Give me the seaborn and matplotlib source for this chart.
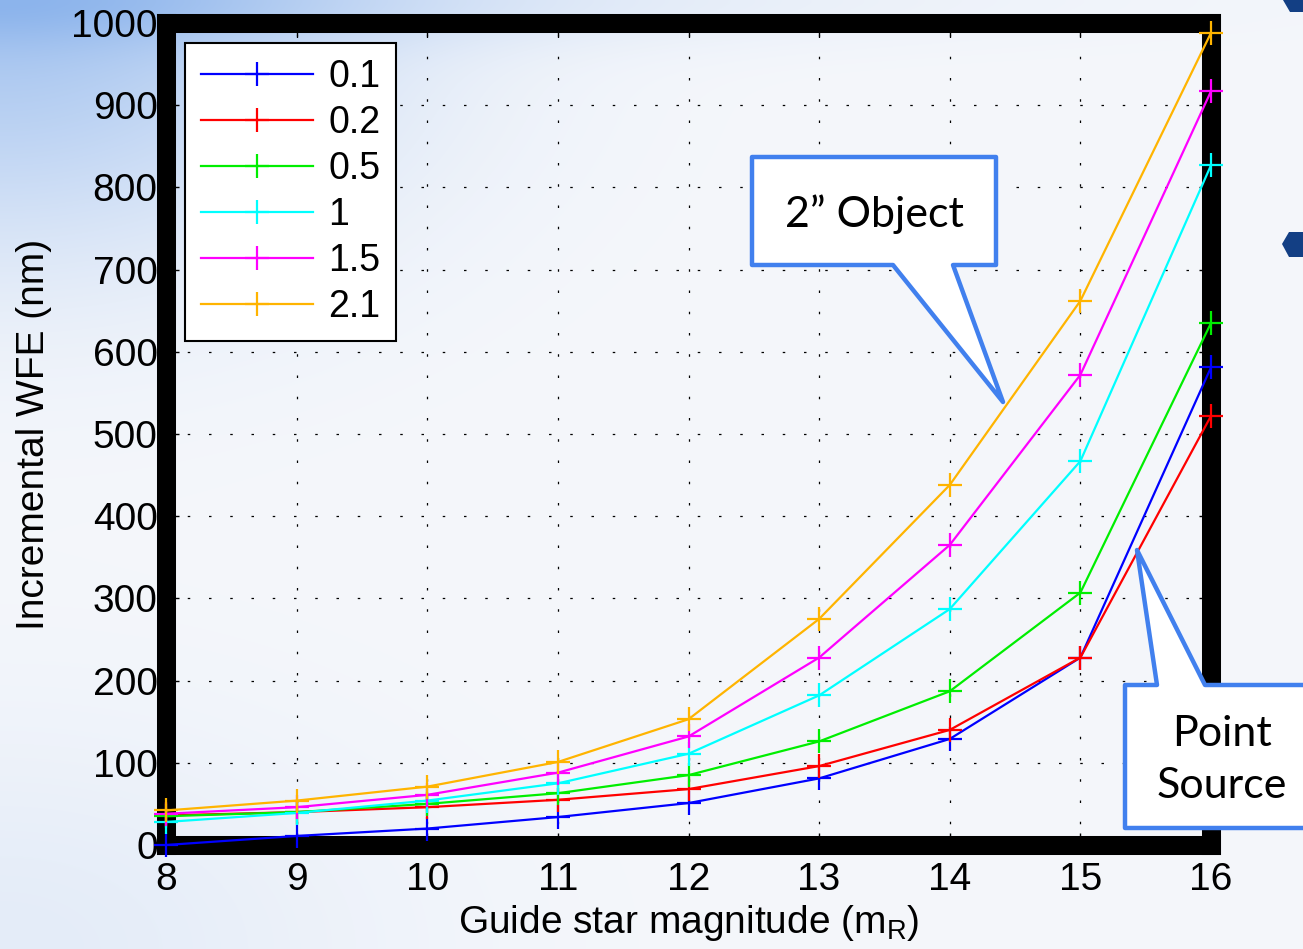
import numpy as np
import pandas as pd
import matplotlib
matplotlib.use("Agg")
import matplotlib.pyplot as plt
from matplotlib.patches import Polygon
import seaborn as sns

# ---------------- data ----------------
magnitudes = [8, 9, 10, 11, 12, 13, 14, 15, 16]
wfe_0_1 = [0, 11, 20, 34, 51, 81, 129, 228, 581]
wfe_0_2 = [36, 40, 46, 55, 68, 96, 140, 228, 522]
wfe_0_5 = [35, 40, 50, 63, 85, 126, 187, 307, 635]
wfe_1 = [28, 39, 54, 75, 111, 182, 287, 467, 827]
wfe_1_5 = [38, 46, 61, 88, 132, 228, 365, 572, 917]
wfe_2_1 = [42, 54, 71, 101, 153, 275, 438, 662, 988]
series_labels = ["0.1", "0.2", "0.5", "1", "1.5", "2.1"]
series_colors = ["#0000FF", "#FF0000", "#00EE00", "#00FFFF", "#FF00FF", "#FFB400"]
x_ticks = [8, 9, 10, 11, 12, 13, 14, 15, 16]
y_ticks = [0, 100, 200, 300, 400, 500, 600, 700, 800, 900, 1000]
x_label = "Guide star magnitude (m$_\\mathregular{R}$)"
y_label = "Incremental WFE (nm)"
callout_1 = "2\u201d Object"
callout_2 = "Point\nSource"

all_series = [wfe_0_1, wfe_0_2, wfe_0_5, wfe_1, wfe_1_5, wfe_2_1]
rows = []
for lab, vals in zip(series_labels, all_series):
    for xv, yv in zip(magnitudes, vals):
        rows.append({"mag": xv, "wfe": yv, "series": lab})
df = pd.DataFrame(rows)

plt.rcParams["font.family"] = ["Liberation Sans", "DejaVu Sans"]
plt.rcParams["mathtext.fontset"] = "custom"
plt.rcParams["mathtext.rm"] = "Liberation Sans"

W, H = 1303, 949
fig = plt.figure(figsize=(W / 100, H / 100), dpi=100)

# ---------------- background ----------------
bg = fig.add_axes([0, 0, 1, 1], zorder=-5)
yy, xx = np.mgrid[0:H, 0:W].astype(float)
w = 0.72 * np.exp(-((xx / 360) ** 2 + (yy / 240) ** 2))
w += 0.28 * np.exp(-((yy / 45) ** 2)) * np.exp(-((xx / 800) ** 2))
w += 0.16 * np.exp(-((xx / 380) ** 2 + ((H - yy) / 220) ** 2))
w = np.clip(w, 0, 1)[..., None]
base = np.array([245, 247, 251]) / 255
blue = np.array([140, 180, 236]) / 255
img = base * (1 - w) + blue * w
bg.imshow(img, extent=[0, W, H, 0], aspect="auto")
bg.set_xlim(0, W)
bg.set_ylim(H, 0)
bg.axis("off")

# ---------------- main axes ----------------
ax = fig.add_axes([166 / W, 1 - 845 / H, (1211 - 166) / W, (845 - 23) / H])
ax.set_facecolor("none")

sns.lineplot(data=df, x="mag", y="wfe", hue="series", hue_order=series_labels,
             palette=series_colors, marker="+", markersize=17, markeredgewidth=1.6,
             linewidth=1.6, ax=ax, zorder=3, clip_on=False, legend=False)
for ln in ax.get_lines():
    ln.set_markeredgecolor(ln.get_color())

ax.set_xlim(8, 16)
ax.set_ylim(0, 1000)
ax.set_xticks(x_ticks)
ax.set_yticks(y_ticks)
ax.grid(True, color="black", linestyle=(0, (2, 15)), linewidth=0.9)
ax.set_axisbelow(True)
for s in ax.spines.values():
    s.set_linewidth(13.7)
    s.set_color("black")
    s.set_zorder(2.5)
ax.tick_params(direction="in", length=9, width=1, top=True, right=True,
               labelsize=28, colors="black")
ax.tick_params(axis="y", pad=6)
ax.tick_params(axis="x", pad=12)
ax.set_xlabel(x_label, fontsize=28, labelpad=4)
ax.set_ylabel(y_label, fontsize=28, labelpad=14)

handles = [plt.Line2D([], [], color=c, marker="+", markersize=17, markeredgewidth=1.6,
                      linewidth=1.6) for c in series_colors]
leg = ax.legend(handles, series_labels, loc="upper left",
                bbox_to_anchor=((185 - 166) / 1045, 1 - (43 - 23) / 822),
                borderaxespad=0, fancybox=False, framealpha=1, edgecolor="black",
                fontsize=27, handlelength=3.0, labelspacing=0.27, borderpad=0.42,
                handletextpad=0.4)
leg.get_frame().set_linewidth(1.5)
leg.set_zorder(6)

# ---------------- overlay callouts ----------------
ov = fig.add_axes([0, 0, 1, 1], zorder=10)
ov.set_xlim(0, W)
ov.set_ylim(H, 0)
ov.axis("off")
ov.set_facecolor("none")
edge = "#4180EE"
p1 = Polygon([(752, 157), (996, 157), (996, 265), (953, 265), (1003, 402),
              (893, 265), (752, 265)], closed=True, facecolor="white",
             edgecolor=edge, linewidth=3.2, joinstyle="round")
ov.add_patch(p1)
ov.text(874, 227, callout_1, fontsize=31, family=["Lato", "DejaVu Sans"],
        ha="center", va="baseline", color="black")
p2 = Polygon([(1125, 685), (1157, 685), (1137, 550), (1205, 685), (1330, 685),
              (1330, 828), (1125, 828)], closed=True, facecolor="white",
             edgecolor=edge, linewidth=3.2, joinstyle="round")
ov.add_patch(p2)
ov.text(1222, 760, callout_2, fontsize=31, family=["Lato", "DejaVu Sans"],
        ha="center", va="center", multialignment="center", linespacing=1.45,
        color="black")
hex_col = "#133F84"
ov.add_patch(Polygon([(1283, 0), (1310, 0), (1310, 12), (1290, 12)], closed=True,
                     facecolor=hex_col, edgecolor="none"))
ov.add_patch(Polygon([(1282, 244), (1289, 232), (1310, 232), (1310, 257), (1289, 257)],
                     closed=True, facecolor=hex_col, edgecolor="none"))

fig.savefig("out.png", dpi=100)
